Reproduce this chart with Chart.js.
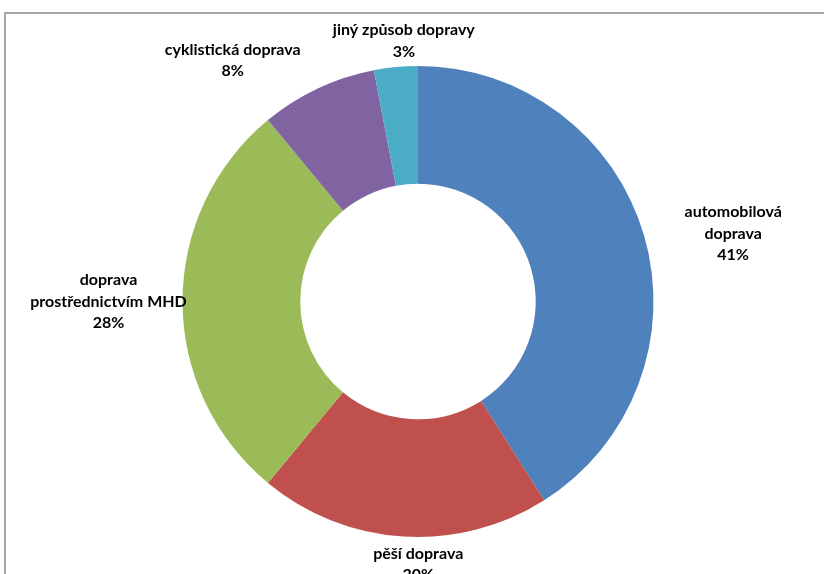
<!DOCTYPE html>
<html>
<head>
<meta charset="utf-8">
<script src="https://cdn.jsdelivr.net/npm/chart.js@4.4.1/dist/chart.umd.min.js"></script>
<style>
    html, body { margin: 0; padding: 0; background: #fff; overflow: hidden; }
    #wrap { position: relative; width: 824px; height: 574px; }
    #frame {
        position: absolute; left: 4px; top: 12px; width: 900px; height: 700px;
        border-left: 2px solid #a6a6a6; border-top: 2px solid #a6a6a6;
        box-sizing: border-box;
    }
    canvas { position: absolute; left: 0; top: 0; }
</style>
</head>
<body>
<div id="wrap">
    <div id="frame"></div>
    <canvas id="chart" width="824" height="574"></canvas>
</div>
<script>
const categories = [
    ["automobilová", "doprava"],
    ["pěší doprava"],
    ["doprava", "prostřednictvím MHD"],
    ["cyklistická doprava"],
    ["jiný způsob dopravy"]
];
const shares = [41, 20, 28, 8, 3];
const colors = ["#4f81bd", "#c0504d", "#9bbb59", "#8064a2", "#4bacc6"];

// where each label sits relative to the outer edge of its slice (px)
const labelNudge = [[89, -2], [15, 28], [-74, 0], [-85, -28], [8, -26]];

const outsideLabels = {
    id: 'outsideLabels',
    afterDatasetsDraw(chart) {
        const ctx = chart.ctx;
        const meta = chart.getDatasetMeta(0);
        const total = shares.reduce((a, b) => a + b, 0);
        ctx.save();
        ctx.fillStyle = "#000";
        ctx.textAlign = "center";
        ctx.textBaseline = "middle";
        ctx.font = "bold 16px Lato";
        meta.data.forEach(function (arc, i) {
            const mid = (arc.startAngle + arc.endAngle) / 2;
            const x = arc.x + Math.cos(mid) * arc.outerRadius + labelNudge[i][0];
            const y = arc.y + Math.sin(mid) * arc.outerRadius + labelNudge[i][1];
            const lines = categories[i].concat([Math.round(shares[i] / total * 100) + "%"]);
            const lh = 21.5;
            const top = y - (lines.length - 1) * lh / 2;
            lines.forEach(function (t, k) {
                ctx.fillText(t, x, top + k * lh);
            });
        });
        ctx.restore();
    }
};

new Chart(document.getElementById("chart"), {
    type: 'doughnut',
    data: {
        labels: categories.map(c => c.join(" ")),
        datasets: [{
            data: shares,
            backgroundColor: colors,
            borderWidth: 0
        }]
    },
    options: {
        responsive: false,
        animation: false,
        cutout: '50%',
        layout: {
            padding: { left: 60, right: 48, top: 66, bottom: 37 }
        },
        plugins: {
            legend: { display: false },
            tooltip: { enabled: false }
        }
    },
    plugins: [outsideLabels]
});
</script>
</body>
</html>
